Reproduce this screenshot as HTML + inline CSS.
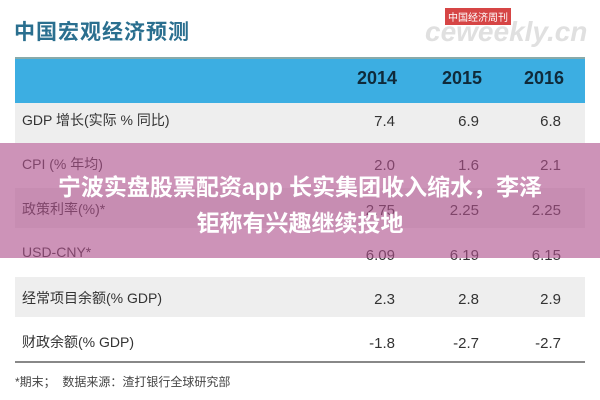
<!DOCTYPE html>
<html><head><meta charset="utf-8"><style>
body{margin:0;width:600px;height:400px;background:#fff;position:relative;overflow:hidden;font-family:"Liberation Sans","Noto Sans CJK SC",sans-serif}
.a{position:absolute}
.title{left:14px;top:16px;font-size:21px;color:#2a6f8f;font-weight:bold;letter-spacing:1px}
.logo{left:425px;top:16px;font-size:28px;color:#e0e0e0;font-style:italic;font-weight:bold}
.tag{left:445px;top:8px;background:#d64545;color:#fff;font-size:10px;padding:1px 3px}
.hl{left:15px;top:57px;width:570px;height:2px;background:#8aa}
.band{left:15px;top:59px;width:570px;height:44px;background:#3caee2}
.yr{font-size:18px;font-weight:bold;color:#0f2a3a;top:68px;width:80px;text-align:right}
.row{left:15px;width:570px;height:40px;background:#eeeeee}
.lab{left:22px;font-size:14px;color:#333}
.num{font-size:15px;color:#333;width:60px;text-align:right;margin-top:4px}
.ov{left:0;top:143px;width:600px;height:115px;background:rgba(175,80,140,0.62)}
.bt{left:0;width:600px;text-align:center;color:#fff;font-size:23px;font-weight:bold}
.bl{left:15px;top:361px;width:570px;height:2px;background:#888}
.fn{left:15px;top:373px;font-size:12px;color:#444}
</style></head><body>
<div class="a title">中国宏观经济预测</div>
<div class="a logo">ceweekly.cn</div>
<div class="a tag">中国经济周刊</div>
<div class="a hl"></div>
<div class="a band"></div>
<div class="a yr" style="left:317px">2014</div>
<div class="a yr" style="left:402px">2015</div>
<div class="a yr" style="left:484px">2016</div>
<div class="a row" style="top:103px"></div>
<div class="a row" style="top:188px"></div>
<div class="a row" style="top:277px"></div>

<div class="a lab" style="top:110px">GDP 增长(实际 % 同比)</div>
<div class="a num" style="left:335px;top:109px">7.4</div><div class="a num" style="left:419px;top:109px">6.9</div><div class="a num" style="left:501px;top:109px">6.8</div>

<div class="a lab" style="top:154px">CPI (% 年均)</div>
<div class="a num" style="left:335px;top:153px">2.0</div><div class="a num" style="left:419px;top:153px">1.6</div><div class="a num" style="left:501px;top:153px">2.1</div>

<div class="a lab" style="top:199px">政策利率(%)*</div>
<div class="a num" style="left:335px;top:198px">2.75</div><div class="a num" style="left:419px;top:198px">2.25</div><div class="a num" style="left:501px;top:198px">2.25</div>

<div class="a lab" style="top:244px">USD-CNY*</div>
<div class="a num" style="left:335px;top:243px">6.09</div><div class="a num" style="left:419px;top:243px">6.19</div><div class="a num" style="left:501px;top:243px">6.15</div>

<div class="a lab" style="top:288px">经常项目余额(% GDP)</div>
<div class="a num" style="left:335px;top:287px">2.3</div><div class="a num" style="left:419px;top:287px">2.8</div><div class="a num" style="left:501px;top:287px">2.9</div>

<div class="a lab" style="top:332px">财政余额(% GDP)</div>
<div class="a num" style="left:335px;top:331px">-1.8</div><div class="a num" style="left:419px;top:331px">-2.7</div><div class="a num" style="left:501px;top:331px">-2.7</div>

<div class="a ov"></div>
<div class="a bt" style="top:168px">宁波实盘股票配资app 长实集团收入缩水，李泽</div>
<div class="a bt" style="top:204px">钜称有兴趣继续投地</div>

<div class="a bl"></div>
<div class="a fn">*期末；&nbsp;&nbsp;数据来源：渣打银行全球研究部</div>
</body></html>
